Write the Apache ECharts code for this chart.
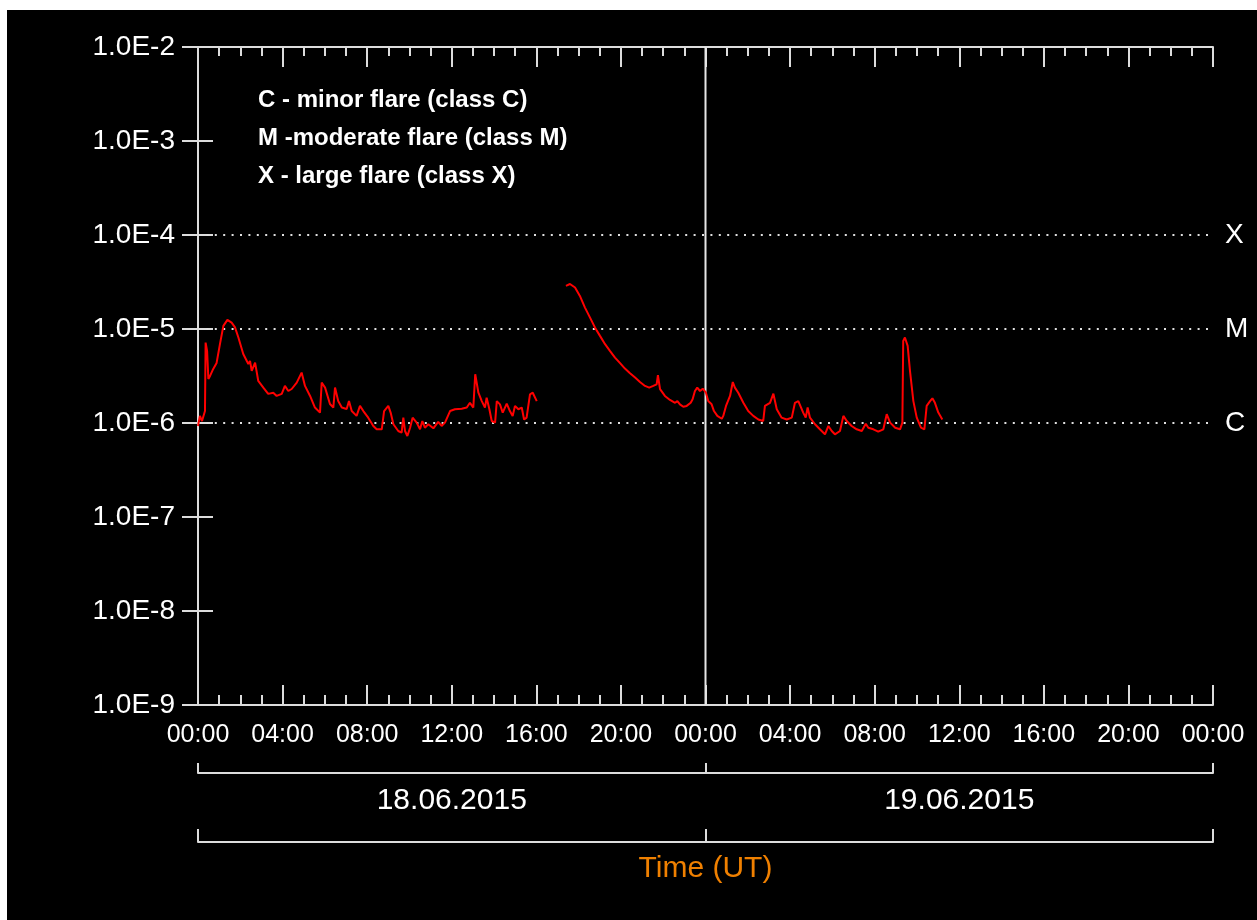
<!DOCTYPE html>
<html>
<head>
<meta charset="utf-8">
<script src="https://cdn.jsdelivr.net/npm/echarts@6/dist/echarts.min.js"></script>
<style>
  html, body { margin: 0; padding: 0; background: #ffffff; }
  #chart { position: absolute; left: 7px; top: 10px; width: 1250px; height: 910px; background: #000000; }
</style>
</head>
<body>
<div id="chart"></div>
<script>
// X-ray flux (W/m^2), 18.06.2015 00:00 UT = hour 0
var hours1 = [0.00,0.09,0.19,0.33,0.36,0.43,0.49,0.57,0.72,0.88,
  1.04,1.20,1.39,1.59,1.75,1.91,2.14,2.38,2.46,2.54,
  2.70,2.85,3.09,3.32,3.56,3.72,3.96,4.11,4.27,4.43,
  4.67,4.90,5.06,5.30,5.53,5.77,5.85,6.01,6.09,6.24,
  6.40,6.48,6.63,6.80,7.03,7.14,7.27,7.50,7.66,7.82,
  8.05,8.29,8.45,8.69,8.80,9.00,9.11,9.24,9.47,9.63,
  9.71,9.79,9.90,10.03,10.15,10.34,10.50,10.61,10.73,10.89,
  11.13,11.36,11.52,11.68,11.92,12.15,12.47,12.71,12.86,13.02,
  13.11,13.18,13.26,13.42,13.57,13.65,13.78,13.89,14.05,14.13,
  14.28,14.41,14.60,14.75,14.88,14.99,15.15,15.31,15.42,15.54,
  15.70,15.83,16.02];
var flux1 = [0.93e-6,1.19e-6,1.05e-6,1.34e-6,7.17e-6,5.85e-6,2.94e-6,3.17e-6,3.76e-6,4.36e-6,
  6.95e-6,10.8e-6,12.5e-6,11.7e-6,10.4e-6,8.11e-6,5.43e-6,4.25e-6,4.58e-6,3.58e-6,
  4.39e-6,2.80e-6,2.38e-6,2.04e-6,2.10e-6,1.94e-6,2.04e-6,2.48e-6,2.19e-6,2.30e-6,
  2.69e-6,3.44e-6,2.48e-6,1.94e-6,1.46e-6,1.29e-6,2.69e-6,2.38e-6,2.48e-6,1.59e-6,
  1.46e-6,2.38e-6,1.71e-6,1.46e-6,1.41e-6,1.71e-6,1.34e-6,1.19e-6,1.52e-6,1.34e-6,
  1.14e-6,0.93e-6,0.857e-6,0.857e-6,1.34e-6,1.52e-6,1.29e-6,0.97e-6,0.822e-6,0.788e-6,
  1.14e-6,0.822e-6,0.727e-6,0.891e-6,1.14e-6,1.01e-6,0.857e-6,1.05e-6,0.891e-6,0.97e-6,
  0.878e-6,1.03e-6,0.93e-6,1.01e-6,1.34e-6,1.40e-6,1.42e-6,1.46e-6,1.64e-6,1.46e-6,
  3.30e-6,3.44e-6,2.10e-6,1.71e-6,1.46e-6,1.86e-6,1.40e-6,1.05e-6,1.01e-6,1.71e-6,
  1.58e-6,1.29e-6,1.61e-6,1.34e-6,1.19e-6,1.52e-6,1.40e-6,1.46e-6,1.09e-6,1.14e-6,
  2.02e-6,2.10e-6,1.71e-6];
var hours2 = [17.40,17.59,17.83,18.06,18.30,18.54,18.77,19.01,19.25,19.48,
  19.72,19.96,20.19,20.43,20.67,20.90,21.14,21.34,21.53,21.69,
  21.75,21.85,22.08,22.32,22.56,22.67,22.79,22.95,23.11,23.30,
  23.39,23.50,23.61,23.74,23.87,24.02,24.13,24.29,24.40,24.56,
  24.77,24.84,24.97,25.16,25.29,25.39,25.55,25.79,26.02,26.26,
  26.50,26.73,26.81,27.05,27.21,27.37,27.60,27.84,28.08,28.23,
  28.39,28.47,28.62,28.74,28.83,28.94,29.18,29.41,29.65,29.81,
  29.97,30.12,30.36,30.52,30.68,30.91,31.15,31.39,31.58,31.70,
  31.94,32.17,32.41,32.57,32.73,32.97,33.20,33.31,33.35,33.43,
  33.56,33.67,33.83,33.99,34.19,34.35,34.46,34.62,34.73,34.85,
  35.01,35.20];
var flux2 = [28.8e-6,30.1e-6,27.6e-6,22.5e-6,16.9e-6,13.2e-6,10.4e-6,8.45e-6,6.89e-6,5.85e-6,
  4.96e-6,4.33e-6,3.79e-6,3.38e-6,3.04e-6,2.73e-6,2.48e-6,2.38e-6,2.48e-6,2.58e-6,
  3.22e-6,2.29e-6,1.94e-6,1.76e-6,1.64e-6,1.71e-6,1.58e-6,1.49e-6,1.52e-6,1.64e-6,
  1.79e-6,2.19e-6,2.38e-6,2.19e-6,2.32e-6,2.10e-6,1.71e-6,1.58e-6,1.34e-6,1.19e-6,
  1.11e-6,1.19e-6,1.52e-6,1.94e-6,2.73e-6,2.38e-6,2.10e-6,1.64e-6,1.34e-6,1.19e-6,
  1.09e-6,1.05e-6,1.52e-6,1.64e-6,2.05e-6,1.40e-6,1.14e-6,1.09e-6,1.14e-6,1.64e-6,
  1.71e-6,1.64e-6,1.29e-6,1.14e-6,1.46e-6,1.14e-6,0.97e-6,0.857e-6,0.758e-6,0.93e-6,
  0.822e-6,0.758e-6,0.822e-6,1.19e-6,1.05e-6,0.93e-6,0.857e-6,0.822e-6,0.98e-6,0.891e-6,
  0.857e-6,0.808e-6,0.857e-6,1.24e-6,1.01e-6,0.891e-6,0.857e-6,1.01e-6,7.47e-6,8.11e-6,
  6.61e-6,3.58e-6,1.71e-6,1.14e-6,0.891e-6,0.857e-6,1.52e-6,1.71e-6,1.83e-6,1.64e-6,
  1.29e-6,1.09e-6];
var dayLabels = ['18.06.2015', '19.06.2015'];
var dayBoundary = 24;
var hourRange = [0, 48];
var classLevels = [1e-4, 1e-5, 1e-6];
var classNames = ['X', 'M', 'C'];
var legendLines = ['C - minor flare (class C)', 'M -moderate flare (class M)', 'X - large flare (class X)'];
var axisTitle = 'Time (UT)';

var FONT = "'Liberation Sans', Arial, sans-serif";
var AX = '#dcdcdc';

function pairs(h, v) { return h.map(function (x, i) { return [x, v[i]]; }); }
function hhmm(v) { var hr = Math.round(v) % 24; return (hr < 10 ? '0' : '') + hr + ':00'; }
function sci(v) { var e = Math.round(Math.log10(v)); return '1.0E' + e; }
function cls(v) {
  for (var i = 0; i < classLevels.length; i++) {
    if (Math.abs(Math.log10(v) - Math.log10(classLevels[i])) < 1e-6) return classNames[i];
  }
  return '';
}

var chart = echarts.init(document.getElementById('chart'), null, { renderer: 'canvas' });
var lineStyleCommon = { color: '#ff0000', width: 2 };

var levelSeries = classLevels.map(function (v) {
  return {
    type: 'line', xAxisIndex: 0, yAxisIndex: 0, silent: true, z: 2,
    data: [[hourRange[0], v], [hourRange[1], v]],
    showSymbol: false, symbol: 'none',
    lineStyle: { color: '#e0e0e0', width: 2, type: [2, 6.4] }
  };
});

var option = {
  backgroundColor: '#000000',
  animation: false,
  title: {
    text: legendLines.join('\n'),
    left: 251, top: 71, padding: 0,
    textStyle: { color: '#ffffff', fontFamily: FONT, fontWeight: 'bold', fontSize: 24, lineHeight: 38 }
  },
  grid: [
    { left: 191, right: 44, top: 37, bottom: 215 },
    { left: 191, right: 44, top: 750, height: 13 },
    { left: 191, right: 44, top: 819, height: 13 }
  ],
  xAxis: [
    {
      gridIndex: 0, type: 'value', position: 'bottom', min: hourRange[0], max: hourRange[1], interval: 4,
      axisLine: { show: true, lineStyle: { color: AX, width: 2 } },
      axisTick: { show: true, inside: true, length: 20, lineStyle: { color: AX, width: 2 } },
      minorTick: { show: true, splitNumber: 4, length: 10, lineStyle: { color: AX, width: 2 } },
      splitLine: { show: false },
      axisLabel: { color: '#ffffff', fontFamily: FONT, fontSize: 25, margin: 18, formatter: hhmm, showMinLabel: true, showMaxLabel: true }
    },
    {
      gridIndex: 0, type: 'value', position: 'top', min: hourRange[0], max: hourRange[1], interval: 4,
      axisLine: { show: true, lineStyle: { color: AX, width: 2 } },
      axisTick: { show: true, inside: true, length: 20, lineStyle: { color: AX, width: 2 } },
      minorTick: { show: true, splitNumber: 4, length: 9, lineStyle: { color: AX, width: 2 } },
      splitLine: { show: false },
      axisLabel: { show: false }
    },
    {
      gridIndex: 1, type: 'category', position: 'bottom', data: dayLabels, boundaryGap: true,
      axisLine: { show: true, lineStyle: { color: AX, width: 2 } },
      axisTick: { show: true, inside: true, length: 10, alignWithLabel: false, interval: 0, lineStyle: { color: AX, width: 2 } },
      splitLine: { show: false },
      axisLabel: { color: '#ffffff', fontFamily: FONT, fontSize: 30, margin: 13, interval: 0 }
    },
    {
      gridIndex: 2, type: 'category', position: 'bottom', data: dayLabels, boundaryGap: true,
      axisLine: { show: true, lineStyle: { color: AX, width: 2 } },
      axisTick: { show: true, inside: true, length: 13, alignWithLabel: false, interval: 0, lineStyle: { color: AX, width: 2 } },
      splitLine: { show: false },
      axisLabel: { show: false },
      name: axisTitle, nameLocation: 'middle', nameGap: 12,
      nameTextStyle: { color: '#f08000', fontFamily: FONT, fontSize: 30 }
    }
  ],
  yAxis: [
    {
      gridIndex: 0, type: 'log', logBase: 10, min: 1e-9, max: 1e-2, position: 'left',
      axisLine: { show: true, lineStyle: { color: AX, width: 2 } },
      axisTick: { show: true, inside: true, length: 15, lineStyle: { color: AX, width: 2 } },
      minorTick: { show: false },
      splitLine: { show: false },
      axisLabel: { color: '#ffffff', fontFamily: FONT, fontSize: 28, margin: 23, formatter: sci }
    },
    {
      gridIndex: 0, type: 'log', logBase: 10, min: 1e-9, max: 1e-2, position: 'right',
      axisLine: { show: true, lineStyle: { color: AX, width: 2 } },
      axisTick: { show: true, inside: true, length: 16, lineStyle: { color: AX, width: 2 } },
      minorTick: { show: false },
      splitLine: { show: false },
      axisLabel: { color: '#ffffff', fontFamily: FONT, fontSize: 28, margin: 12, formatter: cls }
    },
    { gridIndex: 1, type: 'value', show: false },
    { gridIndex: 2, type: 'value', show: false }
  ],
  series: levelSeries.concat([
    {
      type: 'line', xAxisIndex: 0, yAxisIndex: 0, silent: true, z: 3,
      data: [[dayBoundary, 1e-9], [dayBoundary, 1e-2]],
      showSymbol: false, symbol: 'none',
      lineStyle: { color: '#e6e6e6', width: 2 }
    },
    {
      type: 'line', xAxisIndex: 0, yAxisIndex: 0, data: pairs(hours1, flux1),
      showSymbol: false, symbol: 'none', lineStyle: lineStyleCommon, z: 5
    },
    {
      type: 'line', xAxisIndex: 0, yAxisIndex: 0, data: pairs(hours2, flux2),
      showSymbol: false, symbol: 'none', lineStyle: lineStyleCommon, z: 5
    }
  ])
};
chart.setOption(option);
</script>
</body>
</html>
